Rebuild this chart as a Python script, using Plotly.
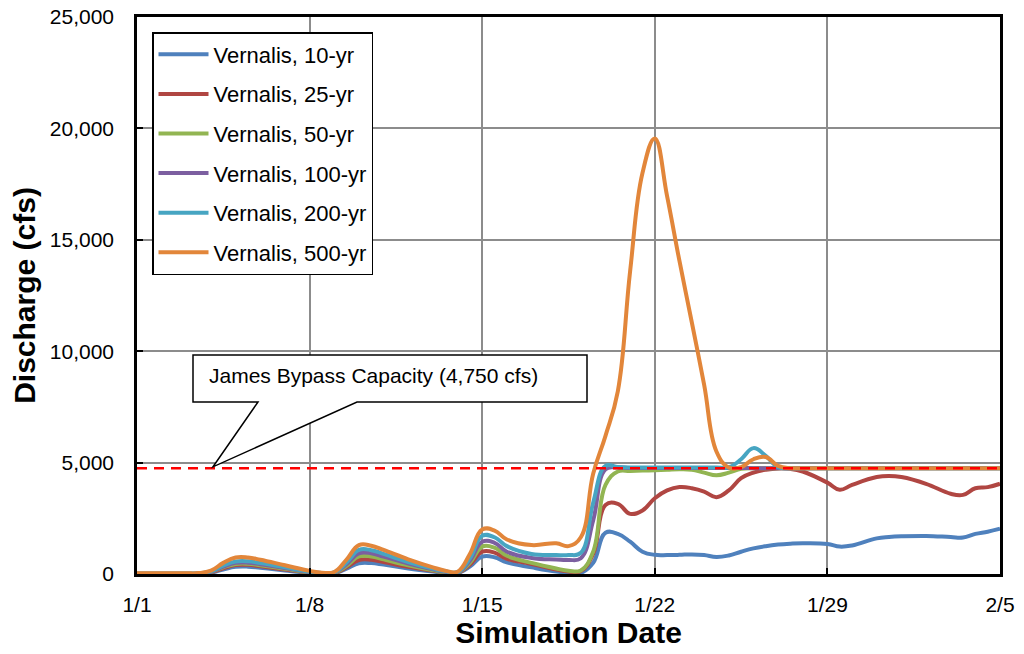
import pandas as pd
import plotly.graph_objects as go

# Simulation days (offset from 1/1) at which discharges were sampled
DAYS = [0, 1, 2, 2.5, 3, 3.5, 4, 4.5, 5, 6,
        7, 7.5, 8, 8.5, 9, 9.5, 10, 11, 12, 12.5,
        13, 13.5, 14, 14.5, 15, 16, 17, 17.5, 18, 18.5,
        19, 19.5, 20, 20.5, 21, 21.5, 22, 22.5, 23, 23.5,
        24, 24.5, 25, 25.5, 26, 26.5, 27, 28, 28.5, 29,
        30, 30.5, 31, 32, 33, 33.5, 34, 34.5, 35]

# Discharge (cfs) at Vernalis for each return-period event
Q_10YR = [0, 0, 0, 10, 60, 200, 320, 330, 280, 160,
          50, 20, 30, 240, 480, 490, 420, 250, 110, 50,
          40, 330, 780, 750, 520, 300, 110, 60, 50, 500,
          1850, 1800, 1450, 1000, 860, 850, 860, 880, 850, 760,
          830, 1000, 1150, 1250, 1320, 1360, 1380, 1350, 1230, 1280,
          1600, 1660, 1690, 1710, 1660, 1640, 1800, 1900, 2030]

Q_25YR = [5, 5, 5, 15, 80, 260, 400, 410, 350, 200,
          60, 25, 40, 300, 630, 640, 540, 320, 140, 70,
          50, 420, 1000, 960, 680, 450, 200, 110, 130, 900,
          3100, 3150, 2700, 2850, 3400, 3750, 3900, 3850, 3700, 3450,
          3750, 4300, 4550, 4680, 4740, 4720, 4600, 4100, 3780, 4000,
          4350, 4400, 4350, 4050, 3600, 3550, 3850, 3900, 4050]

Q_50YR = [10, 10, 10, 20, 90, 300, 450, 460, 390, 230,
          70, 30, 50, 370, 790, 790, 660, 390, 170, 80,
          60, 500, 1230, 1180, 820, 500, 250, 150, 160, 1000,
          4000, 4600, 4620, 4640, 4660, 4680, 4700, 4680, 4550, 4430,
          4550, 4720, 4750, 4750, 4750, 4750, 4750, 4750, 4750, 4750,
          4750, 4750, 4750, 4750, 4750, 4750, 4750, 4750, 4750]

Q_100YR = [15, 15, 15, 25, 100, 330, 500, 510, 440, 270,
           90, 40, 60, 440, 930, 930, 780, 470, 210, 100,
           70, 600, 1450, 1400, 1000, 720, 650, 630, 710, 2400,
           4700, 4780, 4760, 4760, 4760, 4760, 4760, 4760, 4760, 4760,
           4760, 4760, 4750, 4750, 4750, 4750, 4750, 4750, 4750, 4750,
           4750, 4750, 4750, 4750, 4750, 4750, 4750, 4750, 4750]

Q_200YR = [20, 20, 20, 30, 120, 380, 560, 570, 490, 300,
           100, 45, 70, 520, 1080, 1070, 900, 540, 240, 120,
           80, 700, 1720, 1650, 1250, 900, 850, 850, 950, 3200,
           4850, 4800, 4780, 4780, 4780, 4780, 4780, 4780, 4780, 4780,
           4790, 5150, 5650, 5300, 4800, 4750, 4750, 4750, 4750, 4750,
           4750, 4750, 4750, 4750, 4750, 4750, 4750, 4750, 4750]

Q_500YR = [30, 30, 30, 40, 150, 500, 740, 740, 640, 390,
           140, 60, 90, 650, 1300, 1270, 1080, 660, 300, 150,
           100, 900, 2000, 1950, 1550, 1300, 1380, 1250, 1650, 4500,
           6200, 8200, 13600, 18000, 19550, 16950, 14050, 11300, 8500, 5500,
           4780, 4800, 5150, 5250, 4850, 4750, 4750, 4750, 4750, 4750,
           4750, 4750, 4750, 4750, 4750, 4750, 4750, 4750, 4750]

SERIES_NAMES = ["Vernalis, 10-yr", "Vernalis, 25-yr", "Vernalis, 50-yr",
                "Vernalis, 100-yr", "Vernalis, 200-yr", "Vernalis, 500-yr"]
SERIES_VALUES = [Q_10YR, Q_25YR, Q_50YR, Q_100YR, Q_200YR, Q_500YR]
SERIES_COLORS = ["#4F81BD", "#B04642", "#92B552", "#7C5FA0", "#47A5C2", "#E2863A"]

BYPASS_CAPACITY = 4750  # cfs
BYPASS_LABEL = "James Bypass Capacity (4,750 cfs)"

START = pd.Timestamp("2000-01-01")
END = pd.Timestamp("2000-02-05")
dates = [START + pd.Timedelta(days=d) for d in DAYS]

FONT = "Liberation Sans, Arial, sans-serif"

fig = go.Figure()

for i, (name, vals, color) in enumerate(zip(SERIES_NAMES, SERIES_VALUES, SERIES_COLORS)):
    fig.add_trace(go.Scatter(
        x=dates, y=vals, name=name, mode="lines",
        line=dict(color=color, width=4, shape="spline", smoothing=1.2),
        legendgroup=f"g{i}",
    ))

# Capacity of the James Bypass, drawn over the hydrographs
fig.add_trace(go.Scatter(
    x=[START, END], y=[BYPASS_CAPACITY, BYPASS_CAPACITY], mode="lines",
    line=dict(color="#FF0000", width=2.5, dash="10px,7px"),
    showlegend=False, hoverinfo="skip",
))

# Plot-area geometry in pixels, used to place the callout
W, H = 1024, 654
ML, MR, MT, MB = 137, 24, 17, 80
PW = W - ML - MR
PH = H - MT - MB


def px_x(px):
    return (px - ML) / PW


def px_y(py):
    return (H - MB - py) / PH


bx0, bx1 = px_x(193), px_x(587)
wedge_l, wedge_r, tip = px_x(258), px_x(357), px_x(213)
y_top, y_bot = 9830, 7720
y_tip = BYPASS_CAPACITY + 60

callout_path = (
    f"M {bx0},{y_top} L {bx1},{y_top} L {bx1},{y_bot} L {wedge_r},{y_bot} "
    f"L {tip},{y_tip} L {wedge_l},{y_bot} L {bx0},{y_bot} Z"
)
fig.add_shape(type="path", path=callout_path, xref="paper", yref="y",
              line=dict(color="black", width=1.5), fillcolor="white", layer="above")
fig.add_annotation(x=px_x(207), y=(y_top + y_bot) / 2 + 120, xref="paper", yref="y",
                   text=BYPASS_LABEL, showarrow=False, xanchor="left", yanchor="middle",
                   font=dict(family=FONT, size=21, color="black"))

fig.update_layout(
    width=W, height=H,
    margin=dict(l=ML, r=MR, t=MT, b=MB, autoexpand=False),
    paper_bgcolor="white", plot_bgcolor="white",
    font=dict(family=FONT, size=21, color="black"),
    showlegend=True,
    legend=dict(
        x=px_x(152), y=px_y(32), xanchor="left", yanchor="top",
        bgcolor="white", bordercolor="black", borderwidth=1.5,
        font=dict(family=FONT, size=22, color="black"),
        tracegroupgap=8, itemwidth=50,
    ),
    xaxis=dict(
        type="date", range=[START, END], automargin=False,
        tick0=START, dtick=7 * 86400000, tickformat="%-m/%-d",
        showgrid=True, gridcolor="#8C8C8C", gridwidth=1.5,
        showline=True, linecolor="black", linewidth=2.5, mirror=True,
        ticks="inside", ticklen=6, tickcolor="black", tickwidth=1.5,
        ticklabelstandoff=10,
        title=dict(text="<b>Simulation Date</b>", standoff=6,
                   font=dict(family=FONT, size=30, color="black")),
        zeroline=False,
    ),
    yaxis=dict(
        range=[0, 25000], dtick=5000, tickformat=",d", automargin=False,
        showgrid=True, gridcolor="#8C8C8C", gridwidth=1.5,
        showline=True, linecolor="black", linewidth=2.5, mirror=True,
        ticks="inside", ticklen=6, tickcolor="black", tickwidth=1.5,
        ticklabelstandoff=16,
        title=dict(text="<b>Discharge (cfs)</b>", standoff=6,
                   font=dict(family=FONT, size=30, color="black")),
        zeroline=False,
    ),
)

fig.write_html("out.html")
